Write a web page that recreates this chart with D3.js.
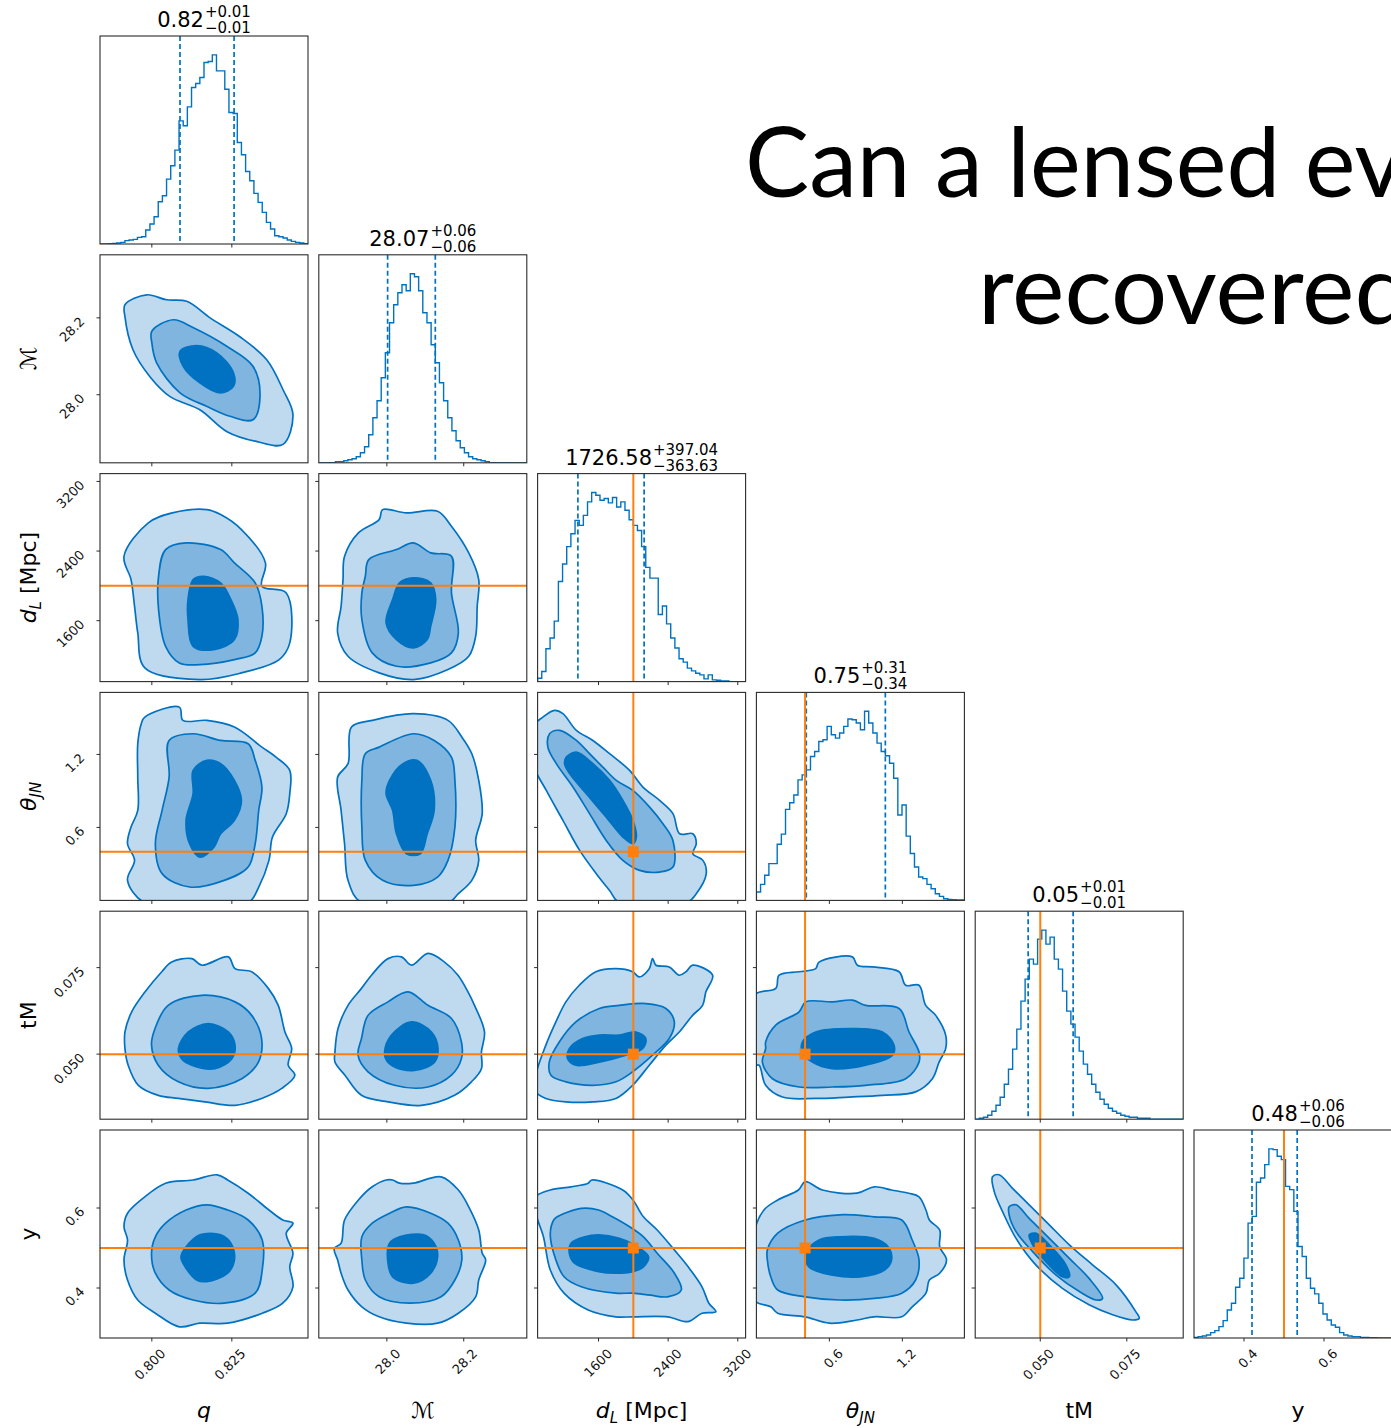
<!DOCTYPE html>
<html>
<head>
<meta charset="utf-8">
<script src="https://cdn.jsdelivr.net/npm/d3@7"></script>
<style>
  body { margin: 0; background: #fff; overflow: hidden; }
  .plot text { font-family: "DejaVu Sans", sans-serif; }
  .headline { font-family: Lato, "Open Sans", sans-serif; }
</style>
</head>
<body>
<svg id="chart" width="1391" height="1428"></svg>
<script>
// parameters: q, chirp mass, luminosity distance, inclination, tM, y
const domains = [[0.7838, 0.8488], [27.823, 28.364], [900, 3290], [0, 1.71], [0.0312, 0.0913], [0.275, 0.795]];
const tickValues = [[0.8, 0.825], [28.0, 28.2], [1600, 2400, 3200], [0.6, 1.2], [0.05, 0.075], [0.4, 0.6]];
const tickLabels = [["0.800", "0.825"], ["28.0", "28.2"], ["1600", "2400", "3200"], ["0.6", "1.2"], ["0.050", "0.075"], ["0.4", "0.6"]];
const truths = [null, null, 2000, 0.4, 0.05, 0.5];
const quantLow = [0.8088, 28.002, 1363, 0.41, 0.0465, 0.42];
const quantHigh = [0.8257, 28.126, 2124, 1.06, 0.0595, 0.533];
const titleMid = ["0.82", "28.07", "1726.58", "0.75", "0.05", "0.48"];
const titleUp = ["+0.01", "+0.06", "+397.04", "+0.31", "+0.01", "+0.06"];
const titleDown = ["\u22120.01", "\u22120.06", "\u2212363.63", "\u22120.34", "\u22120.01", "\u22120.06"];
const axisLabels = [
  [["q", "i"]],
  [["\u2133", "i"]],
  [["d", "i"], ["L", "is"], [" [Mpc]", ""]],
  [["\u03b8", "i"], ["JN", "is"]],
  [["tM", ""]],
  [["y", ""]]
];

// histogram counts, 50 equal bins over each domain
const histQ = [0,0,1,2,3,5,10,12,14,20,22,42,60,82,127,145,195,235,282,370,355,412,470,482,500,545,548,568,520,520,465,395,392,305,268,218,190,152,125,95,65,45,25,22,18,12,8,5,3,1];
const histM = [0,0,0,0,1,1,2,3,4,6,10,16,28,45,62,85,110,140,158,170,178,172,189,186,172,150,140,118,100,80,62,45,32,22,15,10,6,4,3,2,1,0,0,0,0,0,0,0,0,0];
const histDL = [10,30,98,130,180,298,350,402,440,480,465,495,535,563,555,540,545,532,548,520,535,510,482,465,450,402,340,308,308,200,225,172,130,100,68,58,40,32,25,20,8,20,5,4,2,2,0,0,0,0];
const histTheta = [25,48,75,110,110,168,198,272,292,315,360,375,390,430,445,475,480,520,495,485,500,520,542,540,530,510,565,530,500,470,445,432,410,365,255,285,192,140,100,70,65,48,35,20,12,5,3,2,1,1];
const histTM = [0,1,2,4,8,14,22,35,50,70,90,118,140,160,155,180,189,175,182,160,150,128,108,95,82,68,55,45,35,27,20,15,11,8,6,4,3,2,2,1,1,1,0,0,0,0,0,0,0,0];
const histY = [2,4,6,9,16,22,34,52,84,104,152,179,239,344,364,466,479,519,566,564,544,534,454,444,379,274,244,179,149,132,104,72,54,39,32,16,9,6,4,4,2,2,1,1,0,0,0,0,0,0];
const hists = [histQ, histM, histDL, histTheta, histTM, histY];

// 2D credible contours [outer, middle, inner], points as [x value, y value]
const contMq = [
  [[0.7916,28.234],[0.7984,28.260],[0.8046,28.247],[0.8109,28.243],[0.8182,28.200],[0.8275,28.151],[0.8359,28.091],[0.8410,28.013],[0.8441,27.948],[0.8410,27.871],[0.8329,27.878],[0.8235,27.904],[0.8150,27.961],[0.8057,27.995],[0.7994,28.047],[0.7941,28.117],[0.7916,28.203]],
  [[0.8000,28.165],[0.8067,28.195],[0.8130,28.174],[0.8234,28.126],[0.8316,28.074],[0.8338,27.996],[0.8316,27.935],[0.8244,27.944],[0.8171,27.970],[0.8088,28.005],[0.8015,28.083],[0.8000,28.135]],
  [[0.8088,28.113],[0.8140,28.128],[0.8203,28.109],[0.8255,28.057],[0.8255,28.022],[0.8213,28.005],[0.8150,28.031],[0.8098,28.074]]
];
const contDLq = [
  [[0.7913,2340],[0.7989,2724],[0.8064,2838],[0.8172,2876],[0.8215,2819],[0.8280,2647],[0.8355,2264],[0.8344,1995],[0.8420,1919],[0.8431,1345],[0.8398,1153],[0.8280,1000],[0.8150,923],[0.7978,1058],[0.7956,1460],[0.7946,1765],[0.7935,2072]],
  [[0.8043,2417],[0.8107,2494],[0.8215,2417],[0.8258,2264],[0.8323,2034],[0.8344,1765],[0.8344,1421],[0.8323,1230],[0.8258,1153],[0.8150,1095],[0.8086,1115],[0.8043,1306],[0.8021,1727],[0.8021,2110]],
  [[0.8129,2072],[0.8161,2110],[0.8215,2034],[0.8247,1842],[0.8269,1612],[0.8258,1383],[0.8194,1268],[0.8129,1306],[0.8113,1612],[0.8113,1842]]
];
const contDLM = [
  [[27.890,2340],[27.926,2609],[27.980,2761],[27.989,2876],[28.051,2838],[28.132,2857],[28.168,2685],[28.213,2379],[28.239,2072],[28.235,1765],[28.231,1421],[28.213,1191],[28.159,1038],[28.069,923],[27.980,1000],[27.899,1191],[27.872,1460],[27.881,1765],[27.886,2072]],
  [[27.944,2110],[27.953,2302],[28.025,2417],[28.069,2494],[28.114,2379],[28.168,2340],[28.168,1919],[28.186,1460],[28.168,1230],[28.114,1115],[28.025,1076],[27.962,1230],[27.935,1612],[27.935,1919]],
  [[28.015,1842],[28.033,2034],[28.069,2092],[28.114,2034],[28.127,1842],[28.114,1535],[28.105,1383],[28.069,1287],[28.025,1383],[27.998,1575]]
];
const contThq = [
  [[0.7967,1.453],[0.7978,1.507],[0.8086,1.589],[0.8097,1.480],[0.8172,1.480],[0.8258,1.425],[0.8344,1.260],[0.8388,1.178],[0.8431,1.069],[0.8431,0.877],[0.8420,0.713],[0.8377,0.521],[0.8366,0.329],[0.8334,0.110],[0.8301,-0.02],[0.8129,-0.02],[0.7978,-0.02],[0.7924,0.165],[0.7946,0.329],[0.7924,0.466],[0.7935,0.603],[0.7956,0.740],[0.7956,1.014],[0.7956,1.288]],
  [[0.8054,1.315],[0.8129,1.370],[0.8215,1.315],[0.8301,1.288],[0.8323,1.151],[0.8344,0.932],[0.8334,0.740],[0.8323,0.466],[0.8301,0.274],[0.8226,0.165],[0.8118,0.110],[0.8032,0.220],[0.8011,0.466],[0.8032,0.740],[0.8054,1.014]],
  [[0.8129,1.069],[0.8172,1.151],[0.8215,1.124],[0.8258,0.987],[0.8280,0.822],[0.8258,0.658],[0.8215,0.548],[0.8194,0.438],[0.8150,0.356],[0.8118,0.466],[0.8107,0.658],[0.8129,0.877]]
];
const contThM = [
  [[27.908,1.425],[27.962,1.480],[28.069,1.535],[28.159,1.480],[28.195,1.343],[28.221,1.206],[28.239,0.987],[28.248,0.713],[28.231,0.493],[28.239,0.329],[28.221,0.165],[28.186,0.055],[28.159,-0.02],[27.935,-0.02],[27.899,0.165],[27.890,0.466],[27.881,0.740],[27.872,1.014],[27.899,1.124]],
  [[27.944,1.206],[27.980,1.260],[28.069,1.370],[28.123,1.315],[28.168,1.178],[28.177,0.987],[28.177,0.603],[28.159,0.329],[28.132,0.192],[28.069,0.124],[27.989,0.165],[27.944,0.329],[27.935,0.603],[27.935,0.987]],
  [[28.007,0.987],[28.042,1.124],[28.078,1.151],[28.114,0.987],[28.123,0.740],[28.105,0.548],[28.087,0.384],[28.051,0.384],[28.025,0.548],[28.015,0.740],[27.998,0.877]]
];
const contThDL = [
  [[843,1.425],[961,1.507],[1095,1.562],[1191,1.535],[1345,1.398],[1535,1.315],[1727,1.206],[1957,1.069],[2110,0.932],[2302,0.822],[2455,0.713],[2532,0.548],[2684,0.548],[2723,0.466],[2684,0.384],[2799,0.329],[2838,0.220],[2723,0.055],[2609,-0.02],[1842,-0.02],[1727,0.082],[1574,0.220],[1383,0.411],[1191,0.658],[1000,0.904],[846,1.124]],
  [[1038,1.370],[1153,1.398],[1345,1.315],[1497,1.206],[1650,1.096],[1804,0.987],[1995,0.904],[2187,0.767],[2340,0.631],[2455,0.493],[2455,0.274],[2302,0.233],[2072,0.247],[1880,0.329],[1689,0.493],[1497,0.713],[1306,0.932],[1115,1.124],[1018,1.260]],
  [[1230,1.178],[1345,1.219],[1535,1.124],[1727,0.987],[1880,0.822],[1995,0.658],[2034,0.521],[1995,0.466],[1880,0.521],[1689,0.685],[1460,0.877],[1268,1.042],[1210,1.124]]
];
const contTMq = [
  [[0.7916,0.0564],[0.7937,0.0622],[0.7979,0.0680],[0.8031,0.0738],[0.8062,0.0766],[0.8125,0.0776],[0.8156,0.0757],[0.8239,0.0781],[0.8260,0.0747],[0.8312,0.0738],[0.8364,0.0690],[0.8395,0.0641],[0.8416,0.0564],[0.8437,0.0516],[0.8426,0.0468],[0.8447,0.0439],[0.8406,0.0401],[0.8343,0.0372],[0.8260,0.0352],[0.8166,0.0362],[0.8083,0.0372],[0.8020,0.0381],[0.7958,0.0410],[0.7926,0.0468],[0.7916,0.0516]],
  [[0.8010,0.0574],[0.8051,0.0641],[0.8156,0.0670],[0.8260,0.0651],[0.8312,0.0612],[0.8343,0.0545],[0.8333,0.0477],[0.8281,0.0429],[0.8176,0.0401],[0.8083,0.0420],[0.8020,0.0468],[0.7999,0.0526]],
  [[0.8083,0.0516],[0.8114,0.0564],[0.8176,0.0588],[0.8239,0.0564],[0.8260,0.0526],[0.8250,0.0487],[0.8197,0.0458],[0.8125,0.0468],[0.8093,0.0487]]
];
const contTMM = [
  [[27.865,0.0506],[27.873,0.0574],[27.899,0.0641],[27.934,0.0690],[27.960,0.0728],[28.003,0.0776],[28.038,0.0781],[28.064,0.0757],[28.107,0.0791],[28.150,0.0766],[28.185,0.0728],[28.211,0.0680],[28.228,0.0641],[28.254,0.0564],[28.246,0.0506],[28.246,0.0458],[28.220,0.0420],[28.176,0.0381],[28.090,0.0352],[28.003,0.0362],[27.934,0.0381],[27.891,0.0439],[27.865,0.0477]],
  [[27.934,0.0545],[27.951,0.0612],[28.003,0.0651],[28.055,0.0680],[28.107,0.0641],[28.168,0.0603],[28.194,0.0535],[28.194,0.0487],[28.168,0.0439],[28.107,0.0405],[28.020,0.0410],[27.951,0.0449],[27.925,0.0497]],
  [[27.994,0.0506],[28.012,0.0555],[28.064,0.0593],[28.116,0.0564],[28.133,0.0516],[28.124,0.0477],[28.072,0.0453],[28.020,0.0463],[27.999,0.0482]]
];
const contTMDL = [
  [[880,0.0439],[995,0.0526],[1110,0.0593],[1225,0.0651],[1379,0.0699],[1570,0.0738],[1800,0.0747],[1992,0.0738],[2069,0.0723],[2183,0.0747],[2221,0.0776],[2259,0.0757],[2413,0.0752],[2528,0.0728],[2604,0.0738],[2681,0.0757],[2911,0.0728],[2834,0.0680],[2796,0.0641],[2681,0.0612],[2528,0.0564],[2374,0.0526],[2183,0.0468],[1992,0.0410],[1800,0.0372],[1532,0.0362],[1225,0.0362],[995,0.0372],[880,0.0391]],
  [[1034,0.0477],[1149,0.0535],[1340,0.0593],[1609,0.0632],[1839,0.0641],[2144,0.0646],[2374,0.0632],[2471,0.0593],[2413,0.0545],[2221,0.0497],[1992,0.0449],[1800,0.0420],[1532,0.0410],[1225,0.0420],[1053,0.0439]],
  [[1264,0.0516],[1417,0.0545],[1609,0.0555],[1839,0.0555],[2029,0.0564],[2144,0.0545],[2106,0.0516],[1915,0.0497],[1609,0.0477],[1340,0.0468],[1245,0.0487]]
];
const contTMTh = [
  [[-0.02,0.0670],[0.159,0.0690],[0.187,0.0728],[0.351,0.0738],[0.487,0.0747],[0.515,0.0766],[0.789,0.0781],[0.830,0.0757],[0.954,0.0752],[1.173,0.0738],[1.227,0.0699],[1.337,0.0699],[1.392,0.0641],[1.474,0.0612],[1.556,0.0555],[1.556,0.0516],[1.502,0.0477],[1.447,0.0429],[1.309,0.0391],[1.036,0.0381],[0.762,0.0376],[0.487,0.0372],[0.214,0.0376],[0.076,0.0410],[0.022,0.0468],[-0.02,0.0468]],
  [[0.076,0.0535],[0.159,0.0584],[0.351,0.0622],[0.405,0.0651],[0.625,0.0651],[0.789,0.0656],[0.898,0.0641],[1.173,0.0632],[1.255,0.0564],[1.337,0.0506],[1.337,0.0477],[1.227,0.0429],[0.898,0.0410],[0.625,0.0405],[0.351,0.0405],[0.132,0.0429],[0.049,0.0477],[0.076,0.0516]],
  [[0.378,0.0535],[0.487,0.0564],[0.762,0.0574],[1.036,0.0564],[1.132,0.0526],[1.118,0.0497],[0.898,0.0468],[0.625,0.0458],[0.460,0.0477],[0.378,0.0506]]
];
const contYq = [
  [[0.7913,0.553],[0.7924,0.587],[0.7978,0.628],[0.8043,0.662],[0.8129,0.670],[0.8204,0.683],[0.8237,0.670],[0.8301,0.637],[0.8366,0.595],[0.8409,0.570],[0.8441,0.562],[0.8420,0.537],[0.8441,0.487],[0.8431,0.453],[0.8441,0.403],[0.8409,0.362],[0.8345,0.337],[0.8237,0.312],[0.8150,0.312],[0.8086,0.303],[0.8011,0.337],[0.7956,0.370],[0.7924,0.420],[0.7913,0.470],[0.7924,0.520]],
  [[0.8011,0.528],[0.8043,0.562],[0.8107,0.595],[0.8172,0.608],[0.8237,0.595],[0.8301,0.570],[0.8345,0.520],[0.8345,0.445],[0.8323,0.387],[0.8226,0.362],[0.8129,0.370],[0.8054,0.395],[0.8011,0.437],[0.7999,0.487]],
  [[0.8107,0.503],[0.8150,0.533],[0.8215,0.533],[0.8247,0.512],[0.8258,0.470],[0.8237,0.437],[0.8172,0.416],[0.8140,0.420],[0.8097,0.462],[0.8091,0.478]]
];
const contYM = [
  [[27.881,0.512],[27.890,0.570],[27.926,0.620],[27.962,0.653],[27.998,0.670],[28.015,0.670],[28.033,0.662],[28.069,0.662],[28.141,0.678],[28.186,0.645],[28.213,0.603],[28.239,0.545],[28.248,0.487],[28.257,0.470],[28.239,0.420],[28.231,0.378],[28.186,0.337],[28.132,0.312],[28.051,0.312],[27.980,0.328],[27.935,0.353],[27.899,0.395],[27.881,0.437],[27.872,0.470],[27.863,0.499]],
  [[27.935,0.528],[27.962,0.562],[28.007,0.587],[28.051,0.603],[28.114,0.587],[28.159,0.562],[28.186,0.520],[28.195,0.470],[28.177,0.420],[28.141,0.378],[28.060,0.362],[27.980,0.378],[27.944,0.420],[27.935,0.470]],
  [[28.007,0.512],[28.033,0.528],[28.096,0.533],[28.123,0.512],[28.132,0.478],[28.114,0.437],[28.069,0.412],[28.015,0.428],[28.002,0.470]]
];
const contYDL = [
  [[880,0.628],[1046,0.645],[1284,0.653],[1481,0.662],[1522,0.670],[1878,0.645],[1996,0.620],[2116,0.578],[2274,0.545],[2472,0.495],[2630,0.453],[2789,0.403],[2868,0.362],[2948,0.341],[2789,0.337],[2630,0.316],[2393,0.328],[1996,0.328],[1798,0.328],[1481,0.345],[1204,0.387],[1046,0.445],[967,0.528],[880,0.587]],
  [[1085,0.570],[1125,0.578],[1402,0.599],[1601,0.595],[1759,0.578],[1957,0.553],[2116,0.528],[2274,0.487],[2472,0.437],[2551,0.395],[2393,0.378],[2195,0.382],[1996,0.387],[1798,0.387],[1402,0.403],[1204,0.428],[1085,0.487],[1046,0.537]],
  [[1284,0.512],[1442,0.528],[1601,0.533],[1839,0.524],[2075,0.499],[2175,0.478],[2116,0.453],[1996,0.441],[1798,0.437],[1601,0.441],[1323,0.462],[1264,0.487]]
];
const contYTh = [
  [[-0.02,0.537],[0.062,0.595],[0.175,0.620],[0.345,0.645],[0.402,0.666],[0.543,0.645],[0.827,0.637],[0.968,0.653],[1.111,0.645],[1.252,0.637],[1.337,0.628],[1.394,0.595],[1.422,0.570],[1.507,0.545],[1.507,0.503],[1.563,0.470],[1.507,0.437],[1.422,0.420],[1.394,0.387],[1.281,0.353],[1.195,0.328],[0.968,0.328],[0.827,0.320],[0.600,0.312],[0.402,0.328],[0.175,0.337],[0.118,0.353],[-0.02,0.370]],
  [[0.090,0.495],[0.175,0.537],[0.402,0.570],[0.685,0.583],[0.968,0.578],[1.195,0.570],[1.281,0.520],[1.337,0.470],[1.309,0.420],[1.195,0.387],[0.968,0.374],[0.685,0.370],[0.402,0.378],[0.175,0.395],[0.118,0.428],[0.090,0.470]],
  [[0.402,0.487],[0.515,0.520],[0.685,0.528],[0.968,0.524],[1.082,0.503],[1.111,0.470],[1.054,0.445],[0.855,0.428],[0.628,0.432],[0.430,0.453]]
];
const contYTM = [
  [[0.0362,0.678],[0.0381,0.683],[0.0420,0.649],[0.0468,0.608],[0.0526,0.558],[0.0584,0.508],[0.0651,0.458],[0.0719,0.408],[0.0776,0.341],[0.0786,0.324],[0.0767,0.320],[0.0709,0.333],[0.0641,0.358],[0.0564,0.399],[0.0487,0.458],[0.0430,0.524],[0.0391,0.591],[0.0367,0.641]],
  [[0.0410,0.603],[0.0430,0.608],[0.0468,0.574],[0.0516,0.533],[0.0584,0.474],[0.0641,0.424],[0.0680,0.374],[0.0661,0.370],[0.0613,0.391],[0.0545,0.433],[0.0478,0.491],[0.0430,0.541],[0.0410,0.583]],
  [[0.0468,0.533],[0.0487,0.537],[0.0526,0.508],[0.0574,0.458],[0.0584,0.428],[0.0564,0.428],[0.0516,0.466],[0.0478,0.508]]
];
// [row, column, contours]
const pairs = [
  [1, 0, contMq],
  [2, 0, contDLq], [2, 1, contDLM],
  [3, 0, contThq], [3, 1, contThM], [3, 2, contThDL],
  [4, 0, contTMq], [4, 1, contTMM], [4, 2, contTMDL], [4, 3, contTMTh],
  [5, 0, contYq], [5, 1, contYM], [5, 2, contYDL], [5, 3, contYTh], [5, 4, contYTM]
];

const headline = ["Can a lensed ev", "recovered"];

// ---- drawing ----
const size = 208, left0 = 100, top0 = 36, step = 218.8;
const blue = "#0072c1", orange = "#ff7f0e", frameColor = "#2b2b2b";
const fills = ["#bfd9ef", "#7fb5df", "#0072c1"];

const svg = d3.select("#chart");
const defs = svg.append("defs");
const plot = svg.append("g").attr("class", "plot");

const xs = domains.map(d => d3.scaleLinear().domain(d).range([0, size]));
const ys = domains.map(d => d3.scaleLinear().domain(d).range([size, 0]));

function panel(row, col) {
  const id = "clip-" + row + "-" + col;
  defs.append("clipPath").attr("id", id)
    .append("rect").attr("width", size).attr("height", size);
  const g = plot.append("g").attr("transform", `translate(${left0 + col * step},${top0 + row * step})`);
  const inner = g.append("g").attr("clip-path", `url(#${id})`);
  return { g, inner };
}

function bottomTicks(g, col, withLabels) {
  tickValues[col].forEach((v, k) => {
    const x = xs[col](v);
    g.append("line").attr("x1", x).attr("x2", x).attr("y1", size).attr("y2", size + 3.5)
      .attr("stroke", frameColor).attr("stroke-width", 1);
    if (withLabels) {
      g.append("text")
        .attr("transform", `translate(${x + 12},${size + 14}) rotate(-45)`)
        .attr("text-anchor", "end").attr("dominant-baseline", "middle")
        .attr("font-size", 13).attr("fill", "#111")
        .text(tickLabels[col][k]);
    }
  });
}

function leftTicks(g, row, withLabels) {
  tickValues[row].forEach((v, k) => {
    const y = ys[row](v);
    g.append("line").attr("x1", -3.5).attr("x2", 0).attr("y1", y).attr("y2", y)
      .attr("stroke", frameColor).attr("stroke-width", 1);
    if (withLabels) {
      g.append("text")
        .attr("transform", `translate(-17,${y + 2}) rotate(-45)`)
        .attr("text-anchor", "end").attr("dominant-baseline", "middle")
        .attr("font-size", 13).attr("fill", "#111")
        .text(tickLabels[row][k]);
    }
  });
}

function frame(g) {
  g.append("rect").attr("width", size).attr("height", size)
    .attr("fill", "none").attr("stroke", frameColor).attr("stroke-width", 1.1);
}

// diagonal: histograms
hists.forEach((counts, i) => {
  const { g, inner } = panel(i, i);
  const n = counts.length;
  const edges = d3.range(n + 1).map(k => domains[i][0] + (domains[i][1] - domains[i][0]) * k / n);
  const hy = d3.scaleLinear().domain([0, d3.max(counts) * 1.1]).range([size, 0]);
  const pts = [[edges[0], 0]];
  counts.forEach((c, k) => { pts.push([edges[k], c]); pts.push([edges[k + 1], c]); });
  pts.push([edges[n], 0]);
  inner.append("path")
    .attr("d", d3.line().x(d => xs[i](d[0])).y(d => hy(d[1]))(pts))
    .attr("fill", "none").attr("stroke", blue).attr("stroke-width", 1.4);
  [quantLow[i], quantHigh[i]].forEach(v => {
    inner.append("line").attr("x1", xs[i](v)).attr("x2", xs[i](v)).attr("y1", 0).attr("y2", size)
      .attr("stroke", blue).attr("stroke-width", 1.7).attr("stroke-dasharray", "5,3");
  });
  if (truths[i] !== null) {
    inner.append("line").attr("x1", xs[i](truths[i])).attr("x2", xs[i](truths[i])).attr("y1", 0).attr("y2", size)
      .attr("stroke", orange).attr("stroke-width", 2);
  }
  frame(g);
  bottomTicks(g, i, i === hists.length - 1);

  // title: median with +/- errors
  const tg = g.append("g");
  const main = tg.append("text").attr("y", -9).attr("font-size", 21).attr("fill", "#000").text(titleMid[i]);
  const up = tg.append("text").attr("y", -19).attr("font-size", 15).attr("fill", "#000").text(titleUp[i]);
  const dn = tg.append("text").attr("y", -3).attr("font-size", 15).attr("fill", "#000").text(titleDown[i]);
  const wMain = main.node().getComputedTextLength();
  const wSide = Math.max(up.node().getComputedTextLength(), dn.node().getComputedTextLength());
  const x0 = size / 2 - (wMain + 1 + wSide) / 2;
  main.attr("x", x0);
  up.attr("x", x0 + wMain + 1);
  dn.attr("x", x0 + wMain + 1);
});

// off-diagonal: filled contours
const contourLine = d3.line().curve(d3.curveCatmullRomClosed.alpha(0.5));
pairs.forEach(([row, col, levels]) => {
  const { g, inner } = panel(row, col);
  const paths = levels.map(poly => contourLine.x(d => xs[col](d[0])).y(d => ys[row](d[1]))(poly));
  paths.forEach((d, k) => inner.append("path").attr("d", d).attr("fill", fills[k]).attr("stroke", "none"));
  paths.forEach(d => inner.append("path").attr("d", d).attr("fill", "none").attr("stroke", blue).attr("stroke-width", 1.7));
  if (truths[col] !== null) {
    inner.append("line").attr("x1", xs[col](truths[col])).attr("x2", xs[col](truths[col]))
      .attr("y1", 0).attr("y2", size).attr("stroke", orange).attr("stroke-width", 2);
  }
  if (truths[row] !== null) {
    inner.append("line").attr("y1", ys[row](truths[row])).attr("y2", ys[row](truths[row]))
      .attr("x1", 0).attr("x2", size).attr("stroke", orange).attr("stroke-width", 2);
  }
  if (truths[col] !== null && truths[row] !== null) {
    inner.append("rect")
      .attr("x", xs[col](truths[col]) - 5.5).attr("y", ys[row](truths[row]) - 5.5)
      .attr("width", 11).attr("height", 11).attr("fill", orange);
  }
  frame(g);
  bottomTicks(g, col, row === 5);
  leftTicks(g, row, col === 0);
});

// axis labels
function label(parent, parts) {
  const t = parent.append("text").attr("font-size", 22).attr("fill", "#000").attr("text-anchor", "middle");
  let sub = false;
  parts.forEach(([s, style]) => {
    const sp = t.append("tspan").text(s);
    if (style.includes("i")) sp.attr("font-style", "italic");
    if (style.includes("s")) { sp.attr("font-size", 15).attr("dy", sub ? 0 : 5); sub = true; }
    else if (sub) { sp.attr("dy", -5); sub = false; }
  });
  return t;
}
axisLabels.forEach((parts, k) => {
  const cx = left0 + k * step + size / 2;
  label(plot.append("g").attr("transform", `translate(${cx},1418)`), parts);
  if (k > 0) {
    const cy = top0 + k * step + size / 2;
    label(plot.append("g").attr("transform", `translate(36,${cy}) rotate(-90)`), parts);
  }
});

// slide headline, cut at the right edge as in the slide
const h1 = svg.append("text").attr("class", "headline").attr("x", 745).attr("y", 197)
  .attr("font-size", 96).attr("fill", "#000").text(headline[0]);
const h2 = svg.append("text").attr("class", "headline").attr("x", 978).attr("y", 324)
  .attr("font-size", 96).attr("fill", "#000").text(headline[1]);
// match the slide's letter widths
const w1 = h1.node().getComputedTextLength();
h1.attr("textLength", Math.min(w1, 660)).attr("lengthAdjust", "spacingAndGlyphs");
h2.attr("textLength", 432).attr("lengthAdjust", "spacingAndGlyphs");
</script>
</body>
</html>
